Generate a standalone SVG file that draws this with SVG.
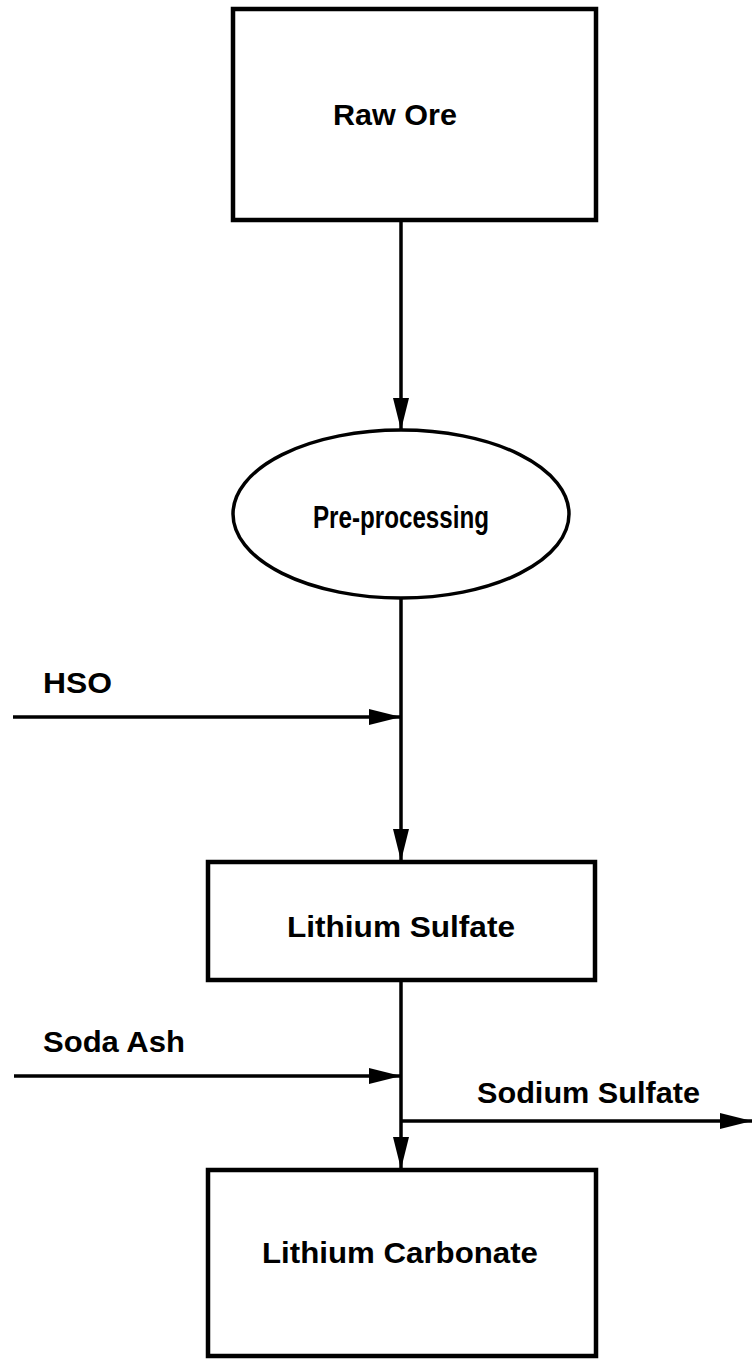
<svg xmlns="http://www.w3.org/2000/svg" width="752" height="1359" viewBox="0 0 752 1359">
<style>
.box{fill:#fff;stroke:#000;stroke-width:4.5}
.ln{fill:none;stroke:#000;stroke-width:3.5}
.t{font-family:"Liberation Sans",Arial,sans-serif;font-weight:bold;font-size:30px;fill:#000}
</style>
<defs>
<marker id="ah" markerUnits="userSpaceOnUse" markerWidth="32" markerHeight="20" refX="32" refY="10" orient="auto">
<path d="M0,2 L32,10 L0,18 z" fill="#000"/>
</marker>
</defs>
<rect width="752" height="1359" fill="#fff"/>
<g id="raw-ore">
<rect class="box" x="233" y="9" width="363" height="211"/>
<text class="t" x="333" y="125" textLength="124" lengthAdjust="spacingAndGlyphs">Raw Ore</text>
</g>
<g id="pre-processing">
<ellipse class="box" cx="401" cy="514" rx="168" ry="84" style="stroke-width:3.5"/>
<text class="t" x="313" y="528" style="font-size:31px" textLength="176" lengthAdjust="spacingAndGlyphs">Pre-processing</text>
</g>
<g id="lithium-sulfate">
<rect class="box" x="208" y="862" width="387" height="118"/>
<text class="t" x="287" y="937" textLength="228" lengthAdjust="spacingAndGlyphs">Lithium Sulfate</text>
</g>
<g id="lithium-carbonate">
<rect class="box" x="208" y="1170" width="388" height="186"/>
<text class="t" x="262" y="1263" textLength="276" lengthAdjust="spacingAndGlyphs">Lithium Carbonate</text>
</g>
<g id="labels">
<text class="t" x="43" y="693" textLength="69" lengthAdjust="spacingAndGlyphs">HSO</text>
<text class="t" x="43" y="1052" textLength="142" lengthAdjust="spacingAndGlyphs">Soda Ash</text>
<text class="t" x="477" y="1103" textLength="223" lengthAdjust="spacingAndGlyphs">Sodium Sulfate</text>
</g>
<g id="connectors">
<line class="ln" x1="401" y1="221" x2="401" y2="430" marker-end="url(#ah)"/>
<line class="ln" x1="401" y1="598" x2="401" y2="861" marker-end="url(#ah)"/>
<line class="ln" x1="13" y1="717" x2="401" y2="717" marker-end="url(#ah)"/>
<line class="ln" x1="401" y1="981" x2="401" y2="1169" marker-end="url(#ah)"/>
<line class="ln" x1="14" y1="1076" x2="401" y2="1076" marker-end="url(#ah)"/>
<line class="ln" x1="401" y1="1121" x2="752" y2="1121" marker-end="url(#ah)"/>
</g>
</svg>
